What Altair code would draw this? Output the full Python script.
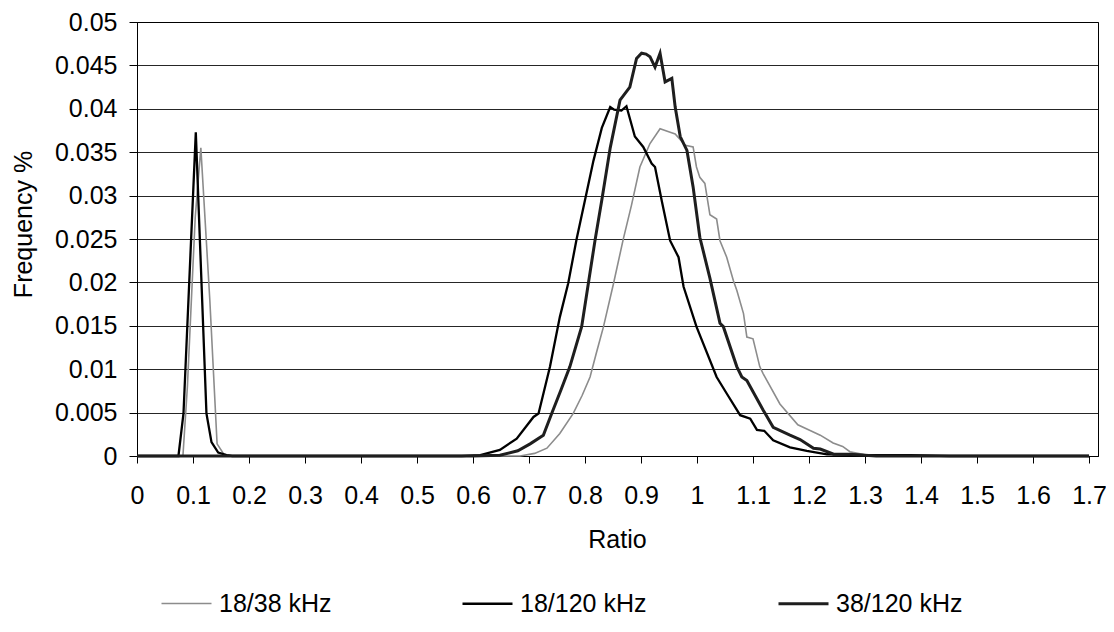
import altair as alt
import pandas as pd

series_names = ["18/38 kHz", "18/120 kHz", "38/120 kHz"]
series_colors = ["#8c8c8c", "#000000", "#1e1e1e"]
series_widths = [1.6, 3.0, 2.0]

# 18/38 kHz (light grey)
ratio_1838 = [0, 0.082, 0.09, 0.1, 0.104, 0.114, 0.13, 0.143, 0.155, 0.17,
              0.6, 0.684, 0.71, 0.732, 0.755, 0.779, 0.795, 0.809, 0.82, 0.833,
              0.851, 0.868, 0.883, 0.898, 0.916, 0.934, 0.952, 0.961, 0.979, 0.993,
              0.999, 1.005, 1.014, 1.023, 1.035, 1.041, 1.053, 1.065, 1.071, 1.083,
              1.089, 1.1, 1.112, 1.118, 1.148, 1.18, 1.2, 1.22, 1.243, 1.26,
              1.273, 1.303, 1.35, 1.45, 1.7]
freq_1838 = [0, 0, 0.008, 0.022, 0.0275, 0.0355, 0.018, 0.0014, 0.0002, 0,
             0, 0, 0.0003, 0.0009, 0.0026, 0.0049, 0.007, 0.0091, 0.0118, 0.0149,
             0.0199, 0.0249, 0.0289, 0.0333, 0.036, 0.0377, 0.0373, 0.0371, 0.0358, 0.0356,
             0.0333, 0.0321, 0.0314, 0.0278, 0.0273, 0.0248, 0.0229, 0.0202, 0.0191, 0.0164,
             0.0137, 0.0135, 0.0103, 0.0095, 0.006, 0.0036, 0.003, 0.0024, 0.0015, 0.0011,
             0.0005, 0.0001, 0.0001, 0, 0]

# 18/120 kHz (thick black)
ratio_18120 = [0, 0.074, 0.083, 0.105, 0.124, 0.133, 0.145, 0.16, 0.17,
               0.58, 0.613, 0.648, 0.678, 0.708, 0.717, 0.7375, 0.755, 0.77, 0.785,
               0.8, 0.815, 0.83, 0.845, 0.852, 0.865, 0.874, 0.889, 0.904, 0.919,
               0.925, 0.937, 0.952, 0.967, 0.976, 0.999, 1.035, 1.053, 1.077, 1.095,
               1.107, 1.12, 1.136, 1.166, 1.196, 1.232, 1.3, 1.38, 1.45, 1.7]
freq_18120 = [0, 0, 0.0049, 0.0373, 0.0049, 0.0016, 0.0004, 0.0001, 0,
              0, 0.0001, 0.0007, 0.002, 0.0045, 0.0049, 0.0103, 0.016, 0.0199, 0.025,
              0.0295, 0.034, 0.0378, 0.0402, 0.0399, 0.0398, 0.0403, 0.0368, 0.0356, 0.0337,
              0.0333, 0.0294, 0.0248, 0.0229, 0.0195, 0.0149, 0.0091, 0.0072, 0.0047, 0.0043,
              0.003, 0.0029, 0.0018, 0.001, 0.0006, 0.0002, 0.0001, 0.0001, 0, 0]

# 38/120 kHz (medium dark)
ratio_38120 = [0, 0.6, 0.648, 0.68, 0.702, 0.7256, 0.7405, 0.757, 0.773, 0.794,
               0.806, 0.818, 0.83, 0.845, 0.8625, 0.88, 0.892, 0.901, 0.909, 0.916,
               0.925, 0.934, 0.943, 0.955, 0.961, 0.97, 0.982, 0.993, 1.005, 1.023,
               1.041, 1.047, 1.071, 1.08, 1.089, 1.118, 1.136, 1.166, 1.184, 1.208,
               1.22, 1.244, 1.273, 1.32, 1.7]
freq_38120 = [0, 0, 0.0001, 0.0006, 0.0014, 0.0024, 0.0049, 0.0076, 0.0103, 0.0149,
              0.0199, 0.0249, 0.0295, 0.0355, 0.041, 0.0425, 0.0458, 0.0464, 0.0463, 0.046,
              0.0448, 0.0464, 0.0431, 0.0435, 0.0402, 0.0368, 0.0352, 0.031, 0.0252, 0.0205,
              0.0153, 0.0149, 0.0103, 0.0091, 0.0087, 0.0053, 0.0033, 0.0024, 0.0019, 0.0009,
              0.0008, 0.0002, 0.0002, 0, 0]

x_ticks = [0, 0.1, 0.2, 0.3, 0.4, 0.5, 0.6, 0.7, 0.8, 0.9, 1.0,
           1.1, 1.2, 1.3, 1.4, 1.5, 1.6, 1.7]
y_ticks = [0, 0.005, 0.01, 0.015, 0.02, 0.025, 0.03, 0.035, 0.04, 0.045, 0.05]

rows = []
for name, xs, ys in [(series_names[0], ratio_1838, freq_1838),
                     (series_names[1], ratio_18120, freq_18120),
                     (series_names[2], ratio_38120, freq_38120)]:
    for i, (xv, yv) in enumerate(zip(xs, ys)):
        rows.append({"series": name, "ratio": xv, "freq": yv, "idx": i})
df = pd.DataFrame(rows)

FONT = "Liberation Sans"

legend = alt.Legend(
    title=None, orient="none", legendX=23, legendY=555, direction="horizontal",
    symbolType="stroke", symbolSize=2500, labelFontSize=25, labelFont=FONT,
    labelColor="black", columnPadding=125, labelOffset=6, columns=3,
)

chart = alt.Chart(df).mark_line().encode(
    x=alt.X("ratio:Q",
            scale=alt.Scale(domain=[0, 1.716], nice=False, zero=False),
            axis=alt.Axis(values=x_ticks, format="~g", title="Ratio", grid=False,
                          tickSize=7, tickColor="black", domainColor="black",
                          labelFontSize=25, labelPadding=20, labelColor="black",
                          labelFlush=False, labelFont=FONT,
                          titleFont=FONT, titleFontSize=25, titleFontWeight="normal",
                          titleColor="black", titleX=480, titleY=91,
                          titleBaseline="alphabetic")),
    y=alt.Y("freq:Q",
            scale=alt.Scale(domain=[0, 0.05], nice=False),
            axis=alt.Axis(values=y_ticks, format="~g", title="Frequency %", grid=True,
                          gridColor="black", gridWidth=1, gridOpacity=0.85,
                          tickSize=8, tickColor="black", domainColor="black",
                          labelFontSize=25, labelPadding=12, labelColor="black",
                          labelFont=FONT, titleFont=FONT, titleFontSize=25,
                          titleFontWeight="normal", titleColor="black",
                          titleX=-114, titleY=202, titleAngle=270,
                          titleAlign="center", titleBaseline="middle")),
    color=alt.Color("series:N",
                    scale=alt.Scale(domain=series_names, range=series_colors),
                    legend=legend),
    strokeWidth=alt.StrokeWidth("series:N",
                                scale=alt.Scale(domain=series_names, range=series_widths),
                                legend=legend),
    order=alt.Order("idx:Q"),
).properties(
    width=961, height=434,
    autosize=alt.AutoSizeParams(type="none"),
    padding={"left": 129, "top": 14, "right": 8, "bottom": 166},
    background="white",
).configure_view(stroke="black", strokeWidth=1)

chart.save("out.html", embed_options={"renderer": "svg", "actions": False})
